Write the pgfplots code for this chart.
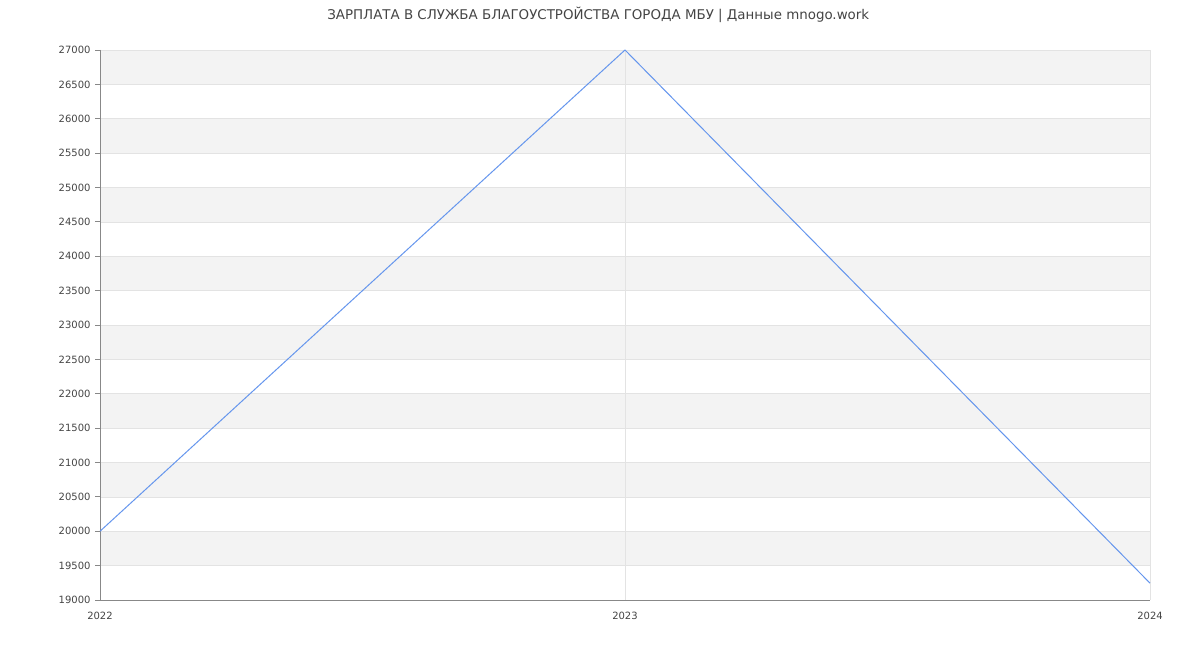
\documentclass[border=0pt]{standalone}
\usepackage{fontspec}
\setmainfont{DejaVu Sans}
\usepackage{pgfplots}
\pgfplotsset{compat=1.18}
\definecolor{bandgray}{HTML}{F3F3F3}
\definecolor{gridgray}{HTML}{E3E3E3}
\definecolor{axisgray}{HTML}{888888}
\definecolor{txt}{HTML}{444444}
\definecolor{lineblue}{HTML}{6495ED}
\begin{document}
\begin{tikzpicture}
\path[use as bounding box] (-100pt,-50pt) rectangle (1100pt,600pt);
\begin{axis}[
  at={(0,0)}, anchor=south west,
  scale only axis, width=1050pt, height=550pt,
  xmin=2022, xmax=2024, ymin=19000, ymax=27000,
  xtick={2022,2023,2024},
  ytick={19000,19500,...,27000},
  scaled y ticks=false,
  axis x line*=bottom, axis y line*=left,
  axis line style={axisgray, line width=0.8pt},
  ytick style={axisgray, line width=0.8pt},
  xtick style={draw=none},
  tick align=outside, major tick length=5pt,
  tick label style={font=\fontsize{10}{12}\selectfont, text=txt},
  /pgf/number format/assume math mode=true,
  /pgf/number format/1000 sep={},
  yticklabel={\pgfmathprintnumber[fixed,precision=0,1000 sep={}]{\tick}},
  xticklabel style={yshift=-4pt},
  yticklabel style={xshift=-1pt},
  clip=false,
  title={ЗАРПЛАТА В СЛУЖБА БЛАГОУСТРОЙСТВА ГОРОДА МБУ | Данные mnogo.work},
  title style={font=\fontsize{13.4}{16}\selectfont, text=txt, at={(0.4745,1)}, yshift=18pt, anchor=south},
]
\fill[bandgray] (axis cs:2022,19500) rectangle (axis cs:2024,20000);
\fill[bandgray] (axis cs:2022,20500) rectangle (axis cs:2024,21000);
\fill[bandgray] (axis cs:2022,21500) rectangle (axis cs:2024,22000);
\fill[bandgray] (axis cs:2022,22500) rectangle (axis cs:2024,23000);
\fill[bandgray] (axis cs:2022,23500) rectangle (axis cs:2024,24000);
\fill[bandgray] (axis cs:2022,24500) rectangle (axis cs:2024,25000);
\fill[bandgray] (axis cs:2022,25500) rectangle (axis cs:2024,26000);
\fill[bandgray] (axis cs:2022,26500) rectangle (axis cs:2024,27000);
\pgfplotsinvokeforeach{19500,20000,20500,21000,21500,22000,22500,23000,23500,24000,24500,25000,25500,26000,26500,27000}{
  \draw[gridgray, line width=0.6pt] (axis cs:2022,#1) -- (axis cs:2024,#1);
}
\draw[gridgray, line width=0.6pt] (axis cs:2023,19000) -- (axis cs:2023,27000);
\draw[gridgray, line width=0.6pt] (axis cs:2024,27000) -- (axis cs:2024,19000);
\draw[axisgray, line width=0.8pt] (axis cs:2022,27000) -- (axis cs:2022,19000) -- (axis cs:2024,19000);
\addplot[lineblue, line width=1pt, mark=none] coordinates {
  (2022,20000) (2023,27000) (2024,19245)
};
\end{axis}
\end{tikzpicture}
\end{document}
